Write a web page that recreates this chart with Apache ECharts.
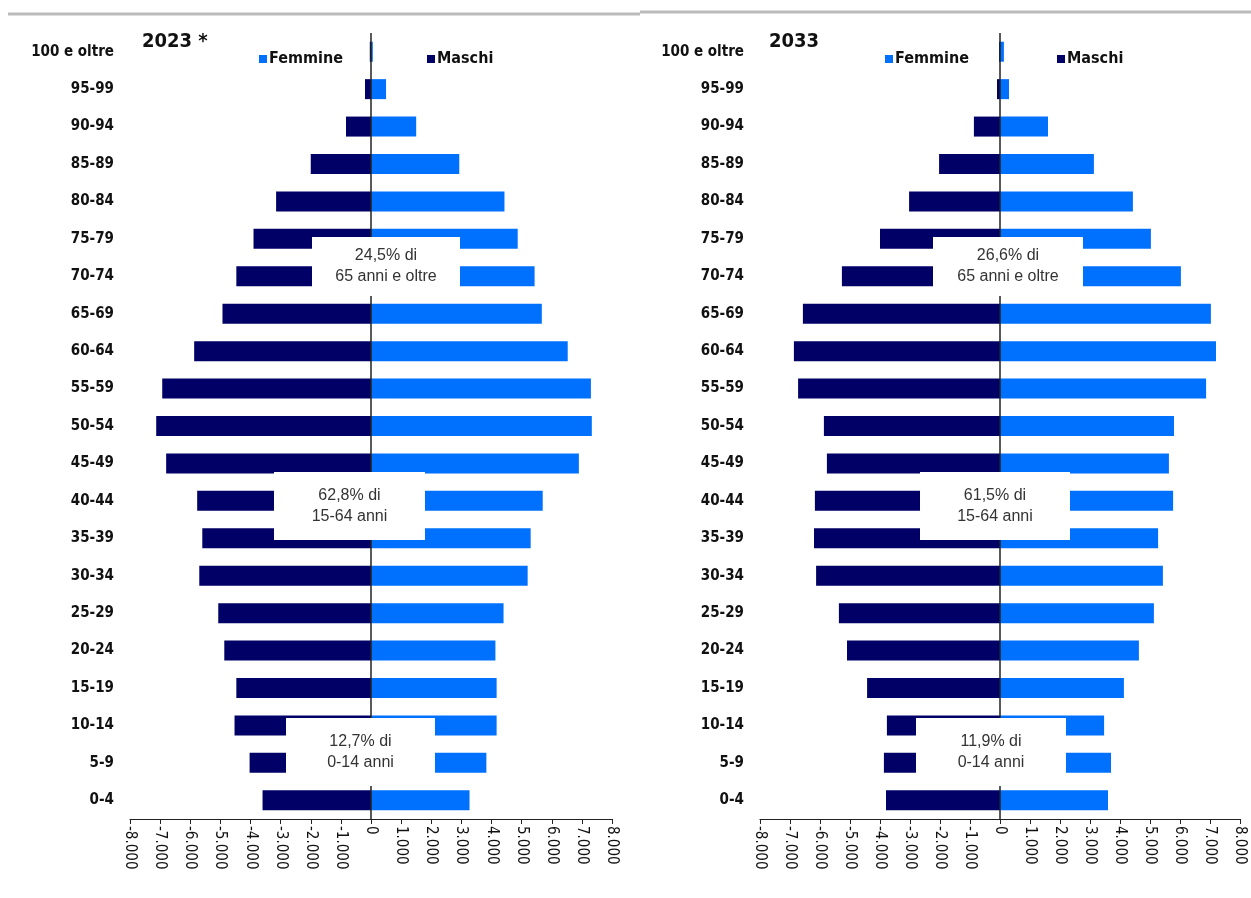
<!DOCTYPE html>
<html lang="it">
<head>
<meta charset="UTF-8">
<title>piramide</title>
<style>
  html, body { margin: 0; padding: 0; background: #fff; }
  #chart { width: 1251px; height: 898px; }
</style>
</head>
<body>
<div id="chart"></div>
<script src="https://cdn.jsdelivr.net/npm/echarts@6/dist/echarts.min.js"></script>
<script>
// classi di eta, dal basso verso l'alto
const classi = ['0-4', '5-9', '10-14', '15-19', '20-24', '25-29', '30-34', '35-39', '40-44', '45-49',
    '50-54', '55-59', '60-64', '65-69', '70-74', '75-79', '80-84', '85-89', '90-94', '95-99', '100 e oltre'];

const maschi2023 = [3600, 4030, 4530, 4470, 4870, 5070, 5700, 5600, 5770, 6800,
    7130, 6930, 5870, 4930, 4470, 3900, 3150, 2000, 830, 200, 40];
const femmine2023 = [3270, 3830, 4170, 4170, 4130, 4400, 5200, 5300, 5700, 6900,
    7330, 7300, 6530, 5670, 5430, 4870, 4430, 2930, 1500, 500, 60];

const maschi2033 = [3800, 3870, 3770, 4430, 5100, 5370, 6130, 6200, 6170, 5770,
    5870, 6730, 6870, 6570, 5270, 4000, 3030, 2030, 870, 100, 30];
const femmine2033 = [3600, 3700, 3470, 4130, 4630, 5130, 5430, 5270, 5770, 5630,
    5800, 6870, 7200, 7030, 6030, 5030, 4430, 3130, 1600, 300, 130];

const titoli = ['2023 *', '2033'];
const note2023 = ['24,5% di\n65 anni e oltre', '62,8% di\n15-64 anni', '12,7% di\n0-14 anni'];
const note2033 = ['26,6% di\n65 anni e oltre', '61,5% di\n15-64 anni', '11,9% di\n0-14 anni'];

const BLU = '#0070ff';
const NAVY = '#000066';
const NARROW = '"Liberation Sans Narrow", "DejaVu Sans Condensed", "Arial Narrow", sans-serif';
const SANS = '"Liberation Sans", Arial, sans-serif';

const grids = [
    { left: 130, top: 33, width: 482, height: 786 },
    { left: 760, top: 33, width: 480, height: 786 }
];

function fmt(v) {
    if (v === 0) return '0';
    const s = Math.abs(v).toString().replace(/\B(?=(\d{3})+(?!\d))/g, '.');
    return (v < 0 ? '-' : '') + s;
}

function xAx(i) {
    return {
        type: 'value', gridIndex: i, min: -8000, max: 8000, interval: 1000,
        splitLine: { show: false },
        axisLine: { show: true, onZero: false, lineStyle: { color: '#222', width: 1.2 } },
        axisTick: { show: true, length: 5, lineStyle: { color: '#222' } },
        axisLabel: {
            rotate: -90, formatter: fmt, color: '#111', fontSize: 15,
            fontFamily: NARROW, margin: 7
        }
    };
}

function yAx(i) {
    return {
        type: 'category', gridIndex: i, data: classi,
        axisLine: { show: false }, axisTick: { show: false },
        axisLabel: {
            color: '#111', fontSize: 15, fontWeight: 'bold', fontFamily: NARROW, margin: 16
        }
    };
}

function barre(i, m, f) {
    return [
        {
            name: 'Maschi', type: 'bar', xAxisIndex: i, yAxisIndex: i,
            data: m.map(v => -v), barWidth: 20, barGap: '-100%',
            itemStyle: { color: NAVY }, silent: true
        },
        {
            name: 'Femmine', type: 'bar', xAxisIndex: i, yAxisIndex: i,
            data: f, barWidth: 20, barGap: '-100%',
            itemStyle: { color: BLU }, silent: true,
            markLine: {
                silent: true, symbol: 'none', label: { show: false },
                lineStyle: { color: '#222', width: 1.5, type: 'solid' },
                data: [{ xAxis: 0 }]
            }
        }
    ];
}

function leg(name, left) {
    return {
        data: [name], left: left, top: 46, icon: 'rect', itemWidth: 8, itemHeight: 8,
        itemGap: 3, selectedMode: false,
        textStyle: { fontSize: 16, fontWeight: 'bold', fontFamily: NARROW, color: '#111', padding: [0, 0, 0, -3] }
    };
}

function box(x, y, w, h, testo) {
    return [
        { type: 'rect', z: 100, shape: { x: x, y: y, width: w, height: h }, style: { fill: '#fff' } },
        {
            type: 'text', z: 101, x: x + w / 2, y: y + h / 2,
            style: {
                text: testo, align: 'center', verticalAlign: 'middle',
                font: '16px ' + SANS, fill: '#333', lineHeight: 21
            }
        }
    ];
}

const chart = echarts.init(document.getElementById('chart'));
chart.setOption({
    animation: false,
    backgroundColor: '#fff',
    grid: grids,
    xAxis: [xAx(0), xAx(1)],
    yAxis: [yAx(0), yAx(1)],
    legend: [leg('Femmine', 254), leg('Maschi', 422), leg('Femmine', 880), leg('Maschi', 1052)],
    series: barre(0, maschi2023, femmine2023).concat(barre(1, maschi2033, femmine2033)),
    graphic: [
        { type: 'line', shape: { x1: 8, y1: 14, x2: 640, y2: 14 }, style: { stroke: '#bbb', lineWidth: 3 } },
        { type: 'line', shape: { x1: 640, y1: 12, x2: 1251, y2: 12 }, style: { stroke: '#bbb', lineWidth: 3 } },
        { type: 'text', x: 142, y: 32, style: { text: titoli[0], font: 'bold 20px ' + NARROW, fill: '#111' } },
        { type: 'text', x: 769, y: 32, style: { text: titoli[1], font: 'bold 20px ' + NARROW, fill: '#111' } }
    ].concat(
        box(312, 237, 148, 59, note2023[0]),
        box(274, 472, 151, 68, note2023[1]),
        box(286, 718, 149, 68, note2023[2]),
        box(933, 237, 150, 59, note2033[0]),
        box(920, 472, 150, 68, note2033[1]),
        box(916, 718, 150, 68, note2033[2])
    )
});
</script>
</body>
</html>
